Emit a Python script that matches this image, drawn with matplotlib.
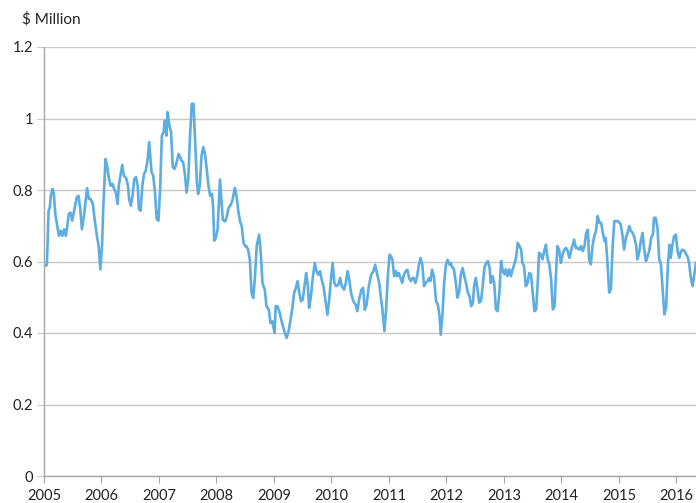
import numpy as np
import matplotlib.pyplot as plt

# decimal year, value in $ million
years = [
    2005.01, 2005.05, 2005.08, 2005.10, 2005.12, 2005.15, 2005.17, 2005.20, 2005.23, 2005.26,
    2005.29, 2005.32, 2005.35, 2005.38, 2005.41, 2005.43, 2005.46, 2005.49, 2005.53, 2005.57,
    2005.60, 2005.63, 2005.66, 2005.70, 2005.72, 2005.75, 2005.78, 2005.81, 2005.85, 2005.88,
    2005.92, 2005.95, 2005.98, 2006.01, 2006.03, 2006.07, 2006.10, 2006.13, 2006.16, 2006.19,
    2006.22, 2006.25, 2006.28, 2006.30, 2006.34, 2006.36, 2006.39, 2006.43, 2006.46, 2006.48,
    2006.51, 2006.54, 2006.57, 2006.60, 2006.63, 2006.65, 2006.68, 2006.71, 2006.74, 2006.77,
    2006.80, 2006.83, 2006.87, 2006.90, 2006.93, 2006.96, 2006.99, 2007.02, 2007.05, 2007.08,
    2007.10, 2007.13, 2007.15, 2007.18, 2007.21, 2007.24, 2007.27, 2007.30, 2007.34, 2007.37,
    2007.39, 2007.42, 2007.45, 2007.48, 2007.51, 2007.54, 2007.57, 2007.60, 2007.63, 2007.66,
    2007.68, 2007.71, 2007.74, 2007.77, 2007.80, 2007.83, 2007.86, 2007.89, 2007.92, 2007.94,
    2007.96, 2007.99, 2008.02, 2008.06, 2008.11, 2008.15, 2008.18, 2008.21, 2008.25, 2008.28,
    2008.32, 2008.35, 2008.38, 2008.41, 2008.44, 2008.47, 2008.50, 2008.52, 2008.55, 2008.58,
    2008.61, 2008.64, 2008.67, 2008.70, 2008.74, 2008.77, 2008.80, 2008.84, 2008.87, 2008.91,
    2008.94, 2008.97, 2009.01, 2009.03, 2009.06, 2009.10, 2009.14, 2009.18, 2009.22, 2009.26,
    2009.30, 2009.32, 2009.35, 2009.38, 2009.41, 2009.44, 2009.47, 2009.50, 2009.53, 2009.56,
    2009.59, 2009.61, 2009.64, 2009.67, 2009.71, 2009.74, 2009.77, 2009.80, 2009.83, 2009.86,
    2009.90, 2009.93, 2009.96, 2009.99, 2010.02, 2010.05, 2010.08, 2010.12, 2010.15, 2010.18,
    2010.22, 2010.25, 2010.28, 2010.31, 2010.34, 2010.38, 2010.42, 2010.45, 2010.48, 2010.52,
    2010.55, 2010.58, 2010.61, 2010.65, 2010.69, 2010.73, 2010.76, 2010.79, 2010.83, 2010.86,
    2010.88, 2010.92, 2010.95, 2010.98, 2011.01, 2011.03, 2011.06, 2011.09, 2011.12, 2011.14,
    2011.17, 2011.20, 2011.23, 2011.26, 2011.29, 2011.32, 2011.35, 2011.38, 2011.41, 2011.43,
    2011.46, 2011.49, 2011.52, 2011.55, 2011.58, 2011.61, 2011.64, 2011.67, 2011.70, 2011.72,
    2011.75, 2011.78, 2011.82, 2011.85, 2011.88, 2011.90, 2011.93, 2011.96, 2011.99, 2012.02,
    2012.05, 2012.08, 2012.09, 2012.13, 2012.17, 2012.19, 2012.22, 2012.25, 2012.28, 2012.31,
    2012.34, 2012.37, 2012.40, 2012.43, 2012.46, 2012.48, 2012.51, 2012.54, 2012.57, 2012.60,
    2012.63, 2012.66, 2012.69, 2012.72, 2012.75, 2012.77, 2012.80, 2012.83, 2012.86, 2012.89,
    2012.92, 2012.95, 2012.98, 2013.01, 2013.03, 2013.06, 2013.09, 2013.12, 2013.15, 2013.18,
    2013.21, 2013.24, 2013.27, 2013.30, 2013.32, 2013.35, 2013.38, 2013.41, 2013.44, 2013.47,
    2013.50, 2013.53, 2013.56, 2013.59, 2013.61, 2013.64, 2013.67, 2013.70, 2013.73, 2013.76,
    2013.79, 2013.82, 2013.85, 2013.88, 2013.90, 2013.93, 2013.96, 2013.99, 2014.02, 2014.05,
    2014.08, 2014.11, 2014.14, 2014.17, 2014.19, 2014.22, 2014.25, 2014.28, 2014.31, 2014.34,
    2014.37, 2014.40, 2014.43, 2014.46, 2014.48, 2014.51, 2014.54, 2014.57, 2014.60, 2014.63,
    2014.66, 2014.69, 2014.72, 2014.75, 2014.77, 2014.80, 2014.83, 2014.86, 2014.89, 2014.92,
    2014.95, 2014.98, 2015.01, 2015.03, 2015.06, 2015.09, 2015.12, 2015.15, 2015.18, 2015.21,
    2015.24, 2015.27, 2015.30, 2015.32, 2015.35, 2015.38, 2015.41, 2015.44, 2015.47, 2015.50,
    2015.53, 2015.56, 2015.59, 2015.61, 2015.64, 2015.67, 2015.70, 2015.73, 2015.76, 2015.79,
    2015.82, 2015.85, 2015.88, 2015.90, 2015.93, 2015.96, 2015.99, 2016.02, 2016.05, 2016.08,
    2016.11, 2016.14, 2016.17, 2016.19, 2016.22, 2016.25, 2016.28, 2016.31, 2016.34,
]

value_m = [
    0.588, 0.590, 0.742, 0.750, 0.786, 0.803, 0.789, 0.728, 0.700, 0.672,
    0.686, 0.672, 0.690, 0.672, 0.705, 0.733, 0.737, 0.714, 0.747, 0.780,
    0.784, 0.747, 0.690, 0.733, 0.765, 0.805, 0.775, 0.775, 0.761, 0.719,
    0.672, 0.644, 0.578, 0.644, 0.747, 0.887, 0.864, 0.831, 0.812, 0.817,
    0.803, 0.793, 0.761, 0.812, 0.850, 0.870, 0.840, 0.833, 0.812, 0.775,
    0.756, 0.784, 0.831, 0.836, 0.812, 0.747, 0.742, 0.812, 0.845, 0.854,
    0.882, 0.934, 0.850, 0.840, 0.793, 0.719, 0.714, 0.803, 0.952, 0.962,
    0.994, 0.952, 1.018, 0.980, 0.962, 0.864, 0.859, 0.873, 0.901, 0.892,
    0.882, 0.878, 0.845, 0.793, 0.831, 0.952, 1.041, 1.041, 0.934, 0.821,
    0.789, 0.812, 0.896, 0.920, 0.901, 0.859, 0.812, 0.784, 0.789, 0.756,
    0.658, 0.667, 0.691, 0.829, 0.717, 0.712, 0.726, 0.750, 0.759, 0.773,
    0.806, 0.782, 0.740, 0.712, 0.698, 0.652, 0.643, 0.643, 0.633, 0.605,
    0.512, 0.498, 0.559, 0.643, 0.675, 0.624, 0.540, 0.521, 0.475, 0.465,
    0.428, 0.433, 0.400, 0.475, 0.475, 0.456, 0.428, 0.405, 0.386, 0.409,
    0.451, 0.470, 0.512, 0.526, 0.545, 0.512, 0.489, 0.493, 0.531, 0.568,
    0.531, 0.470, 0.498, 0.549, 0.596, 0.573, 0.563, 0.573, 0.549, 0.531,
    0.484, 0.451, 0.493, 0.549, 0.596, 0.540, 0.531, 0.535, 0.554, 0.531,
    0.521, 0.540, 0.573, 0.549, 0.512, 0.489, 0.479, 0.461, 0.493, 0.521,
    0.526, 0.465, 0.479, 0.531, 0.563, 0.573, 0.591, 0.568, 0.540, 0.498,
    0.475, 0.405, 0.465, 0.559, 0.619, 0.615, 0.605, 0.559, 0.573, 0.559,
    0.568, 0.554, 0.540, 0.563, 0.573, 0.577, 0.554, 0.545, 0.554, 0.554,
    0.540, 0.559, 0.591, 0.610, 0.591, 0.531, 0.540, 0.545, 0.554, 0.545,
    0.577, 0.559, 0.489, 0.479, 0.447, 0.395, 0.451, 0.540, 0.591, 0.605,
    0.591, 0.596, 0.587, 0.578, 0.531, 0.499, 0.513, 0.564, 0.582, 0.559,
    0.540, 0.513, 0.503, 0.475, 0.485, 0.531, 0.554, 0.522, 0.485, 0.489,
    0.531, 0.582, 0.596, 0.601, 0.582, 0.540, 0.559, 0.540, 0.466, 0.461,
    0.513, 0.601, 0.573, 0.564, 0.578, 0.559, 0.578, 0.559, 0.578, 0.592,
    0.610, 0.652, 0.643, 0.633, 0.596, 0.587, 0.531, 0.540, 0.568, 0.564,
    0.513, 0.461, 0.466, 0.550, 0.624, 0.620, 0.606, 0.629, 0.647, 0.606,
    0.592, 0.550, 0.466, 0.475, 0.550, 0.643, 0.633, 0.596, 0.620, 0.633,
    0.638, 0.629, 0.610, 0.633, 0.643, 0.661, 0.638, 0.638, 0.633, 0.643,
    0.629, 0.643, 0.680, 0.689, 0.606, 0.592, 0.643, 0.671, 0.685, 0.727,
    0.708, 0.708, 0.680, 0.657, 0.666, 0.596, 0.513, 0.522, 0.643, 0.713,
    0.713, 0.713, 0.708, 0.704, 0.675, 0.633, 0.666, 0.680, 0.699, 0.685,
    0.680, 0.666, 0.643, 0.606, 0.624, 0.657, 0.680, 0.633, 0.601, 0.615,
    0.633, 0.666, 0.675, 0.722, 0.722, 0.694, 0.606, 0.592, 0.522, 0.452,
    0.471, 0.587, 0.647, 0.610, 0.647, 0.671, 0.675, 0.629, 0.610, 0.629,
    0.633, 0.629, 0.620, 0.615, 0.596, 0.555, 0.531, 0.564, 0.596,
]

year_ticks = list(range(2005, 2017))
y_ticks = [0, 0.2, 0.4, 0.6, 0.8, 1.0, 1.2]
y_tick_labels = ["0", "0.2", "0.4", "0.6", "0.8", "1", "1.2"]

LINE_COLOR = "#5DADE2"
GRID_COLOR = "#C8C8C8"
AXIS_COLOR = "#A6A6A6"

plt.rcParams["font.family"] = ["Lato", "DejaVu Sans"]

fig = plt.figure(figsize=(6.96, 5.03), dpi=100)
ax = fig.add_axes([44 / 696, 1 - 476 / 503, 652 / 696, 429 / 503])

ax.plot(years, value_m, color=LINE_COLOR, linewidth=1.9, solid_joinstyle="round")

ax.set_xlim(2005, 2016.34)
ax.set_ylim(0, 1.2)
ax.set_xticks(year_ticks)
ax.set_xticklabels([str(y) for y in year_ticks])
ax.set_yticks(y_ticks)
ax.set_yticklabels(y_tick_labels)

ax.grid(axis="y", color=GRID_COLOR, linewidth=1.0)
ax.set_axisbelow(True)
for side in ("top", "right"):
    ax.spines[side].set_visible(False)
for side in ("left", "bottom"):
    ax.spines[side].set_color(AXIS_COLOR)
    ax.spines[side].set_linewidth(1.0)

ax.tick_params(axis="y", length=5, color=GRID_COLOR, pad=3, labelsize=10.5, labelcolor="#222222")
ax.tick_params(axis="x", length=5, color=AXIS_COLOR, pad=4, labelsize=10.5, labelcolor="#222222")

fig.text(22 / 696, 1 - 19 / 503, "$ Million", fontsize=11, color="#222222", va="center", ha="left")

fig.savefig("out.png", dpi=100)
